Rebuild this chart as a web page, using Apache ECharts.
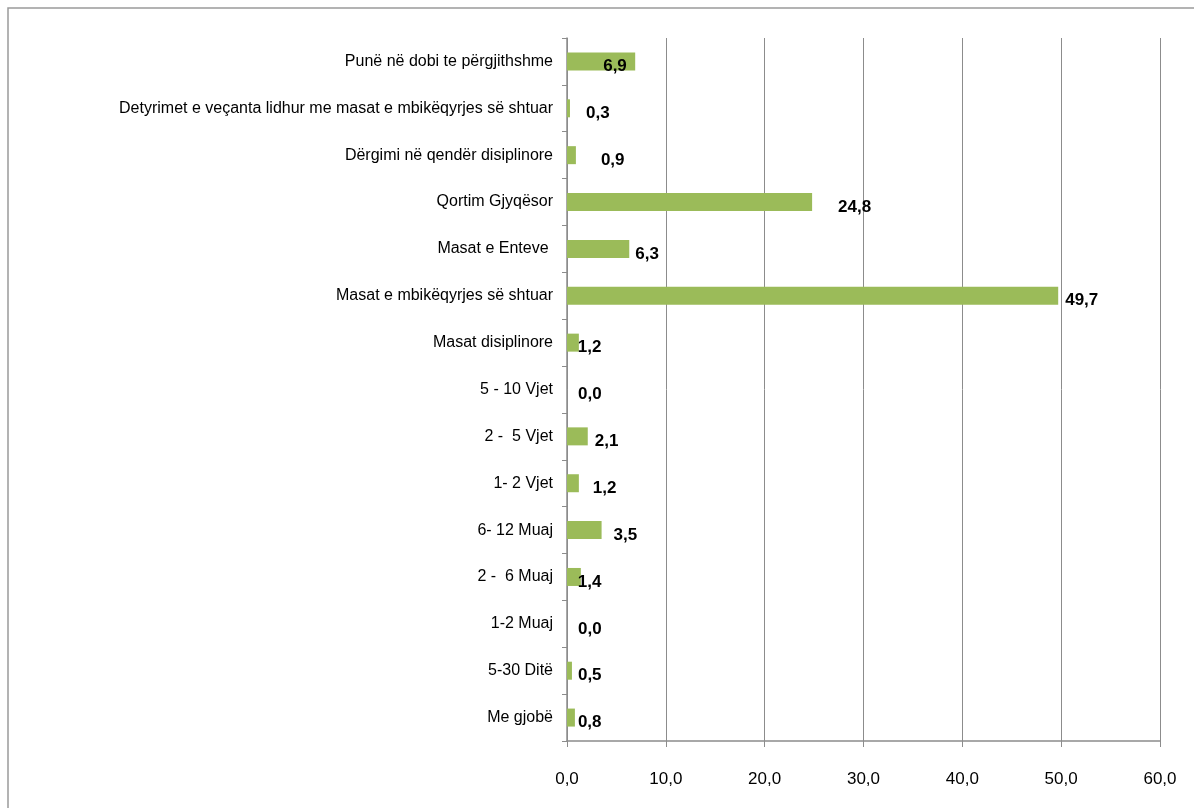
<!DOCTYPE html>
<html>
<head>
<meta charset="utf-8">
<script src="https://cdn.jsdelivr.net/npm/echarts@6/dist/echarts.min.js"></script>
<style>
html,body{margin:0;padding:0;background:#fff;}
#c{width:1194px;height:808px;}
</style>
</head>
<body>
<div id="c"></div>
<script>
// categories listed bottom to top
const categories = [
  "Me gjobë",
  "5-30 Ditë",
  "1-2 Muaj",
  "2 -  6 Muaj",
  "6- 12 Muaj",
  "1- 2 Vjet",
  "2 -  5 Vjet",
  "5 - 10 Vjet",
  "Masat disiplinore",
  "Masat e mbikëqyrjes së shtuar",
  "Masat e Enteve ",
  "Qortim Gjyqësor",
  "Dërgimi në qendër disiplinore",
  "Detyrimet e veçanta lidhur me masat e mbikëqyrjes së shtuar",
  "Punë në dobi te përgjithshme"
];
const values = [0.8, 0.5, 0.0, 1.4, 3.5, 1.2, 2.1, 0.0, 1.2, 49.7, 6.3, 24.8, 0.9, 0.3, 6.9];
const xTicks = [0, 10, 20, 30, 40, 50, 60];
// style only: horizontal nudge of each data label (px), same order as categories
const labelShift = [3, 6, 11, -3, 12, 14, 7, 11, -1, 7, 6, 26, 25, 16, -32];

const FONT = '"Liberation Sans Narrow", "Liberation Sans", sans-serif';
const chart = echarts.init(document.getElementById('c'), null, {renderer: 'canvas'});
chart.setOption({
  animation: false,
  backgroundColor: '#fff',
  graphic: [{
    type: 'rect', shape: {x: 8, y: 8, width: 1250, height: 900},
    style: {fill: 'none', stroke: '#9a9a9a', lineWidth: 1.5}, silent: true, z: -1
  }],
  grid: {left: 567, right: 34, top: 38, bottom: 67, containLabel: false},
  xAxis: {
    type: 'value', min: xTicks[0], max: xTicks[xTicks.length - 1], interval: 10,
    axisLine: {show: true, lineStyle: {color: '#8c8c8c', width: 1.5}},
    axisTick: {show: true, length: 6, lineStyle: {color: '#8c8c8c'}},
    splitLine: {show: true, lineStyle: {color: '#8c8c8c', width: 1}},
    axisLabel: {
      color: '#000', fontFamily: FONT, fontSize: 17, margin: 30,
      formatter: v => v.toFixed(1).replace('.', ',')
    }
  },
  yAxis: {
    type: 'category', data: categories,
    axisLine: {show: true, lineStyle: {color: '#8c8c8c', width: 1.5}},
    axisTick: {show: true, length: 5, lineStyle: {color: '#8c8c8c'}},
    axisLabel: {color: '#000', fontFamily: FONT, fontSize: 16, margin: 14}
  },
  series: [{
    type: 'bar', barWidth: 18,
    data: values.map((v, i) => ({
      value: v,
      label: {offset: [labelShift[i], 5]}
    })),
    itemStyle: {color: '#9bbb59'},
    label: {
      show: true, position: 'right', distance: 0,
      color: '#000', fontFamily: FONT, fontWeight: 'bold', fontSize: 17,
      formatter: p => p.value.toFixed(1).replace('.', ',')
    }
  }]
});
</script>
</body>
</html>
